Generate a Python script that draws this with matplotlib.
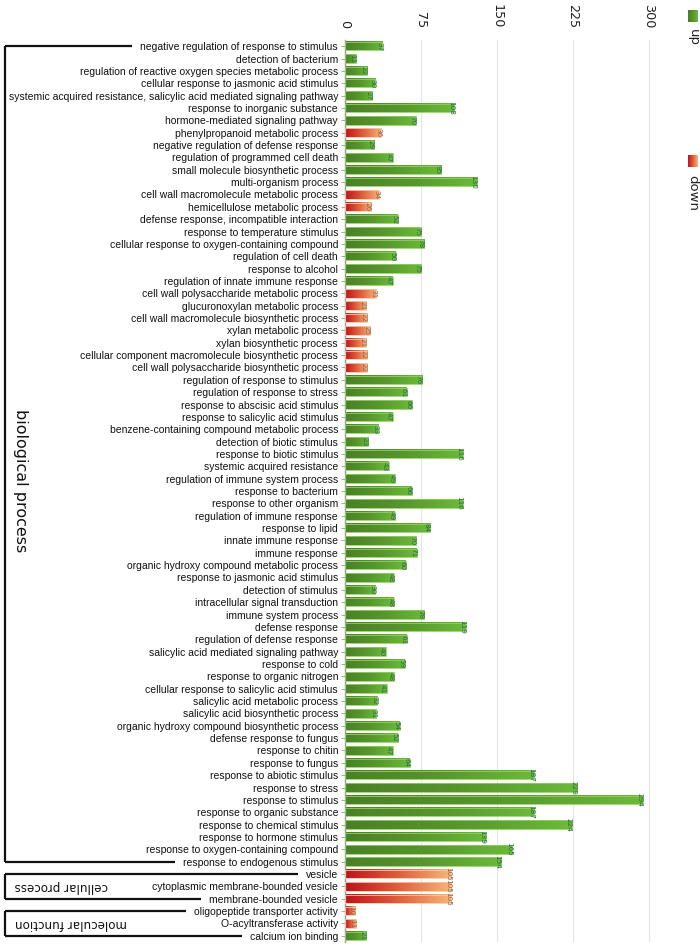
import matplotlib
matplotlib.use("Agg")
import matplotlib.pyplot as plt
import numpy as np
from matplotlib.colors import LinearSegmentedColormap
from matplotlib import font_manager

categories = [
    "negative regulation of response to stimulus",
    "detection of bacterium",
    "regulation of reactive oxygen species metabolic process",
    "cellular response to jasmonic acid stimulus",
    "systemic acquired resistance, salicylic acid mediated signaling pathway",
    "response to inorganic substance",
    "hormone-mediated signaling pathway",
    "phenylpropanoid metabolic process",
    "negative regulation of defense response",
    "regulation of programmed cell death",
    "small molecule biosynthetic process",
    "multi-organism process",
    "cell wall macromolecule metabolic process",
    "hemicellulose metabolic process",
    "defense response, incompatible interaction",
    "response to temperature stimulus",
    "cellular response to oxygen-containing compound",
    "regulation of cell death",
    "response to alcohol",
    "regulation of innate immune response",
    "cell wall polysaccharide metabolic process",
    "glucuronoxylan metabolic process",
    "cell wall macromolecule biosynthetic process",
    "xylan metabolic process",
    "xylan biosynthetic process",
    "cellular component macromolecule biosynthetic process",
    "cell wall polysaccharide biosynthetic process",
    "regulation of response to stimulus",
    "regulation of response to stress",
    "response to abscisic acid stimulus",
    "response to salicylic acid stimulus",
    "benzene-containing compound metabolic process",
    "detection of biotic stimulus",
    "response to biotic stimulus",
    "systemic acquired resistance",
    "regulation of immune system process",
    "response to bacterium",
    "response to other organism",
    "regulation of immune response",
    "response to lipid",
    "innate immune response",
    "immune response",
    "organic hydroxy compound metabolic process",
    "response to jasmonic acid stimulus",
    "detection of stimulus",
    "intracellular signal transduction",
    "immune system process",
    "defense response",
    "regulation of defense response",
    "salicylic acid mediated signaling pathway",
    "response to cold",
    "response to organic nitrogen",
    "cellular response to salicylic acid stimulus",
    "salicylic acid metabolic process",
    "salicylic acid biosynthetic process",
    "organic hydroxy compound biosynthetic process",
    "defense response to fungus",
    "response to chitin",
    "response to fungus",
    "response to abiotic stimulus",
    "response to stress",
    "response to stimulus",
    "response to organic substance",
    "response to chemical stimulus",
    "response to hormone stimulus",
    "response to oxygen-containing compound",
    "response to endogenous stimulus",
    "vesicle",
    "cytoplasmic membrane-bounded vesicle",
    "membrane-bounded vesicle",
    "oligopeptide transporter activity",
    "O-acyltransferase activity",
    "calcium ion binding",
]

values = [37, 11, 22, 30, 27, 108, 70, 36, 29, 47, 95, 130, 34, 26, 52, 75, 78,
          50, 75, 47, 31, 21, 22, 25, 21, 22, 22, 76, 61, 66, 47, 33, 23, 116,
          43, 49, 66, 116, 49, 84, 70, 71, 60, 48, 30, 48, 78, 119, 61, 40, 59,
          48, 41, 32, 31, 54, 52, 47, 64, 187, 229, 294, 187, 224, 139, 165, 154,
          105, 105, 105, 10, 11, 21]

direction = ["up", "up", "up", "up", "up", "up", "up", "down", "up", "up", "up", "up",
             "down", "down", "up", "up", "up", "up", "up", "up",
             "down", "down", "down", "down", "down", "down", "down",
             "up", "up", "up", "up", "up", "up", "up", "up", "up", "up", "up", "up",
             "up", "up", "up", "up", "up", "up", "up", "up", "up", "up", "up", "up",
             "up", "up", "up", "up", "up", "up", "up", "up", "up", "up", "up", "up",
             "up", "up", "up", "up",
             "down", "down", "down", "down", "down", "up"]

groups = ["biological process"] * 67 + ["cellular process"] * 3 + ["molecular function"] * 3
x_ticks = [0, 75, 150, 225, 300]
legend_labels = ["up", "down"]

# fonts
names = {f.name for f in font_manager.fontManager.ttflist}
label_font = "Liberation Sans Narrow" if "Liberation Sans Narrow" in names else "Liberation Sans"

W, H = 700, 947
fig = plt.figure(figsize=(W / 100, H / 100), dpi=100)
ax_left, ax_top_px, ax_bot_px = 345, 40, 942
ppu = (649 - 345) / 300.0
xmax = 345
ax = fig.add_axes([ax_left / W, 1 - ax_bot_px / H, xmax * ppu / W, (ax_bot_px - ax_top_px) / H])

up_cmap = LinearSegmentedColormap.from_list("up", ["#4a8026", "#57962d", "#6cba3b"])
down_cmap = LinearSegmentedColormap.from_list("down", ["#bf121a", "#df5e3d", "#f8b77c"])
grad = np.linspace(0, 1, 256).reshape(1, -1)

n = len(categories)
ypos = np.arange(n)
bh = 0.68
bars = ax.barh(ypos, values, height=bh, facecolor="none", edgecolor="none", zorder=3)
for i, (v, d) in enumerate(zip(values, direction)):
    cmap = up_cmap if d == "up" else down_cmap
    ax.imshow(grad, cmap=cmap, aspect="auto", extent=(0, v, i + bh / 2, i - bh / 2),
              zorder=2, interpolation="bilinear")
    edge = "#8fd25c" if d == "up" else "#f9c8a0"
    ax.barh(i, v, height=bh, facecolor="none", edgecolor=edge, linewidth=0.6, zorder=3)
    tcol = "#2b6a50" if d == "up" else "#8a6452"
    ax.text(v - 0.5, i, str(v), rotation=-90, ha="right", va="center",
            fontsize=5.2, color=tcol, zorder=4, family="DejaVu Sans")

ax.set_xlim(0, xmax)
ax.set_ylim(n - 0.5, -0.5)
ax.set_yticks(ypos)
ax.set_yticklabels(categories, fontsize=7.45, family=label_font, color="#111111")
ax.set_xticks(x_ticks)
ax.set_xticklabels([str(t) for t in x_ticks], rotation=-90, fontsize=9.2,
                   family="DejaVu Sans", color="#222222")
ax.xaxis.tick_top()
ax.tick_params(axis="x", length=0, pad=8.5)
ax.tick_params(axis="y", length=3, width=0.6, color="#999999", pad=2)
for s in ["top", "right", "bottom"]:
    ax.spines[s].set_visible(False)
ax.spines["left"].set_color("#999999")
ax.spines["left"].set_linewidth(1.0)
ax.grid(axis="x", color="#e4e4e4", linewidth=0.8, zorder=0)
ax.set_axisbelow(True)

# legend
def legend_square(y_px, cmap):
    lax = fig.add_axes([688 / W, 1 - (y_px + 12) / H, 10 / W, 12 / H])
    lax.imshow(grad, cmap=cmap, aspect="auto", interpolation="bilinear")
    lax.axis("off")

legend_square(10, up_cmap)
fig.text(693 / W, 1 - 29 / H, legend_labels[0], rotation=-90, ha="center", va="top",
         fontsize=9.5, family="DejaVu Sans", color="#222222")
legend_square(155, down_cmap)
fig.text(693 / W, 1 - 175 / H, legend_labels[1], rotation=-90, ha="center", va="top",
         fontsize=9.5, family="DejaVu Sans", color="#222222")

# group brackets
fig.canvas.draw()
renderer = fig.canvas.get_renderer()
tls = ax.get_yticklabels()

def row_y_px(i):
    return ax.transData.transform((0, i))[1]

def label_x0(i):
    return tls[i].get_window_extent(renderer).x0

def draw_line(xs, ys, lw=1.6):
    line = plt.Line2D([x / W for x in xs], [y / fig.bbox.height for y in ys],
                      transform=fig.transFigure, color="#111111", linewidth=lw,
                      solid_capstyle="butt")
    fig.add_artist(line)

def bracket(i0, i1):
    y0, y1 = row_y_px(i0), row_y_px(i1)
    xl = 5
    draw_line([xl, label_x0(i0) - 8], [y0, y0])
    draw_line([xl, label_x0(i1) - 8], [y1, y1])
    draw_line([xl, xl], [y0, y1])

group_names = []
for g in groups:
    if g not in group_names:
        group_names.append(g)
for g in group_names:
    idx = [i for i, gg in enumerate(groups) if gg == g]
    bracket(idx[0], idx[-1])
    ymid = (row_y_px(idx[0]) + row_y_px(idx[-1])) / 2
    if g == "biological process":
        fig.text(20 / W, (H - 481) / H, g, rotation=-90, ha="center", va="center",
                 fontsize=11.5, family="DejaVu Sans", color="#111111")
    else:
        fig.text(15 / W, ymid / fig.bbox.height, g, rotation=180, ha="left", va="center",
                 fontsize=8.6, family="DejaVu Sans", color="#111111")

fig.savefig("out.png", dpi=100)
